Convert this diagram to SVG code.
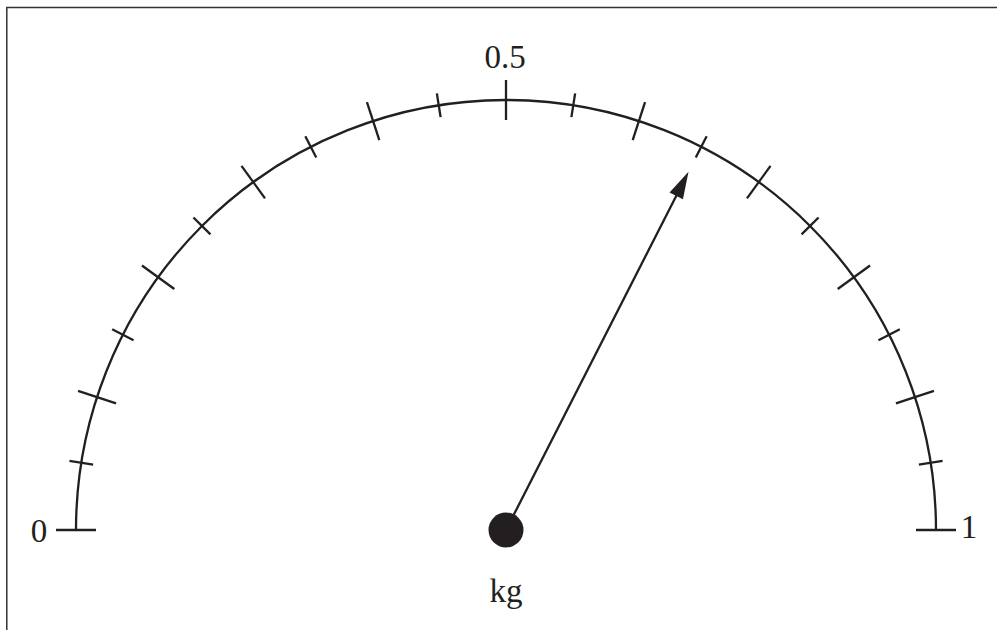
<svg xmlns="http://www.w3.org/2000/svg" width="997" height="630" viewBox="0 0 997 630">
<defs>
<style>
.frame{fill:none;stroke:#333;stroke-width:1.5}
.arc{fill:none;stroke:#231f20;stroke-width:2.3}
.tk{stroke:#231f20;stroke-width:2.3;fill:none}
.lbl{font-family:"Liberation Serif","Times New Roman",serif;font-size:33px;fill:#231f20}
</style>
<line id="longTick" class="tk" x1="56" y1="530" x2="96" y2="530"/>
<line id="shortTick" class="tk" x1="64" y1="530" x2="88" y2="530"/>
</defs>
<rect width="997" height="630" fill="#fff"/>
<path class="frame" d="M6.8 630 V7.5 H997"/>
<g id="dial">
<path class="arc" d="M76 530 A430 430 0 0 1 936 530"/>
<g id="ticks">
<use href="#longTick" transform="rotate(0 506 530)"/>
<use href="#shortTick" transform="rotate(9 506 530)"/>
<use href="#longTick" transform="rotate(18 506 530)"/>
<use href="#shortTick" transform="rotate(27 506 530)"/>
<use href="#longTick" transform="rotate(36 506 530)"/>
<use href="#shortTick" transform="rotate(45 506 530)"/>
<use href="#longTick" transform="rotate(54 506 530)"/>
<use href="#shortTick" transform="rotate(63 506 530)"/>
<use href="#longTick" transform="rotate(72 506 530)"/>
<use href="#shortTick" transform="rotate(81 506 530)"/>
<use href="#longTick" transform="rotate(90 506 530)"/>
<use href="#shortTick" transform="rotate(99 506 530)"/>
<use href="#longTick" transform="rotate(108 506 530)"/>
<use href="#shortTick" transform="rotate(117 506 530)"/>
<use href="#longTick" transform="rotate(126 506 530)"/>
<use href="#shortTick" transform="rotate(135 506 530)"/>
<use href="#longTick" transform="rotate(144 506 530)"/>
<use href="#shortTick" transform="rotate(153 506 530)"/>
<use href="#longTick" transform="rotate(162 506 530)"/>
<use href="#shortTick" transform="rotate(171 506 530)"/>
<use href="#longTick" transform="rotate(180 506 530)"/>
</g>
</g>
<g id="labels">
<text class="lbl" x="39" y="542" text-anchor="middle">0</text>
<text class="lbl" x="505" y="68" text-anchor="middle">0.5</text>
<text class="lbl" x="969" y="538" text-anchor="middle">1</text>
<text class="lbl" x="506" y="602" text-anchor="middle">kg</text>
</g>
<g id="needle" transform="rotate(117 506 530)">
<line x1="506" y1="530" x2="128" y2="530" stroke="#231f20" stroke-width="2.3"/>
<polygon points="104,530 131,522.5 131,537.5" fill="#231f20"/>
</g>
<g id="hub">
<circle cx="506" cy="530" r="17.5" fill="#231f20"/>
</g>
</svg>
